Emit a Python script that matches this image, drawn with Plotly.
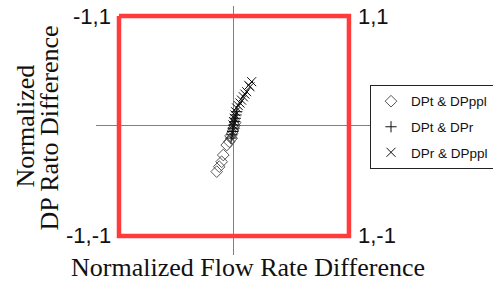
import plotly.graph_objects as go

# Series data (normalized flow rate difference, normalized DP ratio difference)
dpt_dpppl_x = [-0.150, -0.128, -0.107, -0.093, -0.063, -0.041, -0.020, -0.030, -0.015, -0.008, -0.002, 0.004, 0.010]
dpt_dpppl_y = [-0.415, -0.370, -0.325, -0.264, -0.173, -0.143, -0.112, -0.090, -0.065, -0.045, -0.020, 0.005, 0.030]

dpt_dpr_x = [-0.025, -0.018, -0.012, -0.006, 0.000, 0.006, 0.012, 0.018, 0.025]
dpt_dpr_y = [-0.110, -0.080, -0.050, -0.020, 0.010, 0.040, 0.070, 0.100, 0.130]

dpr_dpppl_x = [0.154, 0.139, 0.128, 0.110, 0.095, 0.081, 0.066, 0.052, 0.038, 0.023, 0.014, 0.008, 0.002, -0.004, -0.010]
dpr_dpppl_y = [0.403, 0.357, 0.370, 0.312, 0.290, 0.266, 0.235, 0.209, 0.185, 0.164, 0.130, 0.100, 0.070, 0.040, 0.010]

# Boundary square and its corner labels
square_x = [-1, 1, 1, -1, -1]
square_y = [1, 1, -1, -1, 1]
corner_x = [-1, 1, -1, 1]
corner_y = [1, 1, -1, -1]
corner_labels = ["-1,1", "1,1", "-1,-1", "1,-1"]

fig = go.Figure()
fig.add_trace(go.Scatter(x=square_x, y=square_y, mode="lines",
                         line=dict(color="#ff3b3b", width=4.5), showlegend=False, hoverinfo="skip"))
mk = dict(size=8, line=dict(color="#333333", width=1))
fig.add_trace(go.Scatter(x=dpt_dpppl_x, y=dpt_dpppl_y, mode="markers", name="DPt & DPppl",
                         legendgroup="a",
                         marker=dict(mk, symbol="diamond-open", color="#555555", size=9)))
fig.add_trace(go.Scatter(x=dpt_dpr_x, y=dpt_dpr_y, mode="markers", name="DPt & DPr",
                         legendgroup="b",
                         marker=dict(mk, symbol="cross-thin-open", color="#111111")))
fig.add_trace(go.Scatter(x=dpr_dpppl_x, y=dpr_dpppl_y, mode="markers", name="DPr & DPppl",
                         legendgroup="c",
                         marker=dict(mk, symbol="x-thin-open", color="#111111", size=9)))

ann = []
for cx, cy, t in zip(corner_x, corner_y, corner_labels):
    ann.append(dict(x=cx, y=cy, text=t, showarrow=False,
                    xanchor="right" if cx < 0 else "left", yanchor="middle",
                    xshift=-6 if cx < 0 else 7,
                    font=dict(family="Liberation Sans", size=22, color="#111111")))

serif = dict(family="Liberation Serif", size=26, color="#111111")
ann.append(dict(xref="paper", yref="paper", x=0, y=0, xshift=151.5, yshift=-12,
                xanchor="center", yanchor="middle", showarrow=False,
                text="Normalized Flow Rate Difference", font=serif))
ann.append(dict(xref="paper", yref="paper", x=0, y=0.5, xshift=-71, yshift=4,
                xanchor="center", yanchor="middle", showarrow=False, textangle=-90,
                text="Normalized", font=serif))
ann.append(dict(xref="paper", yref="paper", x=0, y=0.5, xshift=-47, yshift=2,
                xanchor="center", yanchor="middle", showarrow=False, textangle=-90,
                text="DP Rato Difference", font=serif))

fig.update_layout(
    width=493, height=283,
    margin=dict(l=96, r=123, t=6, b=28, autoexpand=False),
    paper_bgcolor="white", plot_bgcolor="white",
    xaxis=dict(range=[-1.2, 1.183], showgrid=False, showticklabels=False, ticks="",
               zeroline=True, zerolinecolor="#808080", zerolinewidth=1, showline=False),
    yaxis=dict(range=[-1.173, 1.091], showgrid=False, showticklabels=False, ticks="",
               zeroline=True, zerolinecolor="#808080", zerolinewidth=1, showline=False),
    legend=dict(x=1.0, xanchor="left", y=0.683, yanchor="top",
                bordercolor="#222222", borderwidth=1, bgcolor="white",
                font=dict(family="Liberation Sans", size=13.5, color="#111111"),
                itemwidth=30, traceorder="grouped", tracegroupgap=5),
    annotations=ann,
    showlegend=True,
)

fig.write_html("out.html", config={"displayModeBar": False},
               post_script="document.body.style.margin='0';document.body.style.padding='0';")
